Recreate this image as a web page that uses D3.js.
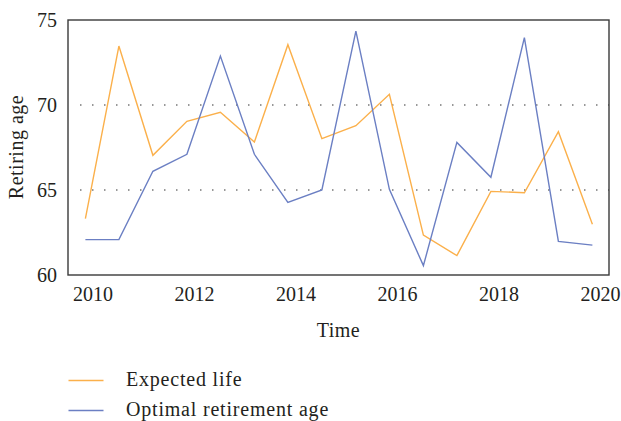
<!DOCTYPE html>
<html><head><meta charset="utf-8">
<script src="https://cdn.jsdelivr.net/npm/d3@7"></script>
<style>body{margin:0;background:#fff}svg{display:block}text{font-family:"Liberation Serif","DejaVu Serif",serif;fill:#231f20}</style>
</head><body>
<script>
const years = [2009.86,2010.52,2011.19,2011.86,2012.52,2013.19,2013.85,2014.52,2015.19,2015.85,2016.52,2017.18,2017.85,2018.51,2019.18,2019.85];
const expectedLife = [63.31,73.47,67.04,69.04,69.57,67.82,73.55,68.02,68.78,70.63,62.35,61.14,64.92,64.84,68.43,62.98];
const optimalAge = [62.08,62.08,66.1,67.1,72.88,67.1,64.27,65.0,74.35,65.04,60.55,67.8,65.75,73.96,61.98,61.76];
const xTicks = [2010,2012,2014,2016,2018,2020];
const yTicks = [60,65,70,75];
const gridValues = [65,70];
const seriesNames = ["Expected life","Optimal retirement age"];
const colors = ["#fbb04b","#6b7fc3"];

const W=621,H=421;
const L=68,R=609,T=20,B=275;
const svg=d3.select("body").append("svg").attr("width",W).attr("height",H);
const x=d3.scaleLinear().domain([2010,2020]).range([92.5,600]);
const y=d3.scaleLinear().domain([60,75]).range([B,T]);

// grid
svg.append("g").selectAll("line").data(gridValues).join("line")
  .attr("x1",L+12).attr("x2",R).attr("y1",d=>y(d)).attr("y2",d=>y(d))
  .attr("stroke","#777").attr("stroke-width",1.5).attr("stroke-dasharray","1.5,10.5");

// series
const line=d3.line().x((d,i)=>x(years[i])).y(d=>y(d));
[expectedLife,optimalAge].forEach((s,k)=>{
  svg.append("path").datum(s).attr("d",line).attr("fill","none")
    .attr("stroke",colors[k]).attr("stroke-width",1.4).attr("stroke-linejoin","miter");
});

// frame
svg.append("rect").attr("x",L).attr("y",T).attr("width",R-L).attr("height",B-T)
  .attr("fill","none").attr("stroke","#3a3a3a").attr("stroke-width",1.4);

// axes labels
const xa=svg.append("g").attr("transform",`translate(0,${B})`)
  .call(d3.axisBottom(x).tickValues(xTicks).tickFormat(d3.format("d")).tickSize(0).tickPadding(12));
xa.select(".domain").remove();
xa.selectAll("text").attr("font-size",20).attr("font-family","Liberation Serif").attr("fill","#231f20");
const ya=svg.append("g").attr("transform",`translate(${L},0)`)
  .call(d3.axisLeft(y).tickValues(yTicks).tickSize(0).tickPadding(11));
ya.select(".domain").remove();
ya.selectAll("text").attr("font-size",20).attr("font-family","Liberation Serif").attr("fill","#231f20");

svg.append("text").attr("x",338.5).attr("y",337).attr("text-anchor","middle").attr("font-size",20).attr("letter-spacing",0.5).text("Time");
svg.append("text").attr("transform","translate(23,147) rotate(-90)").attr("text-anchor","middle").attr("font-size",20).attr("letter-spacing",0.5).text("Retiring age");

// legend
const lg=svg.append("g");
seriesNames.forEach((n,k)=>{
  const yy=380.5+k*30;
  lg.append("line").attr("x1",68.5).attr("x2",103.5).attr("y1",yy).attr("y2",yy).attr("stroke",colors[k]).attr("stroke-width",1.4);
  lg.append("text").attr("x",126).attr("y",yy+5.5).attr("font-size",20).attr("letter-spacing",0.8).text(n);
});
</script>
</body></html>
